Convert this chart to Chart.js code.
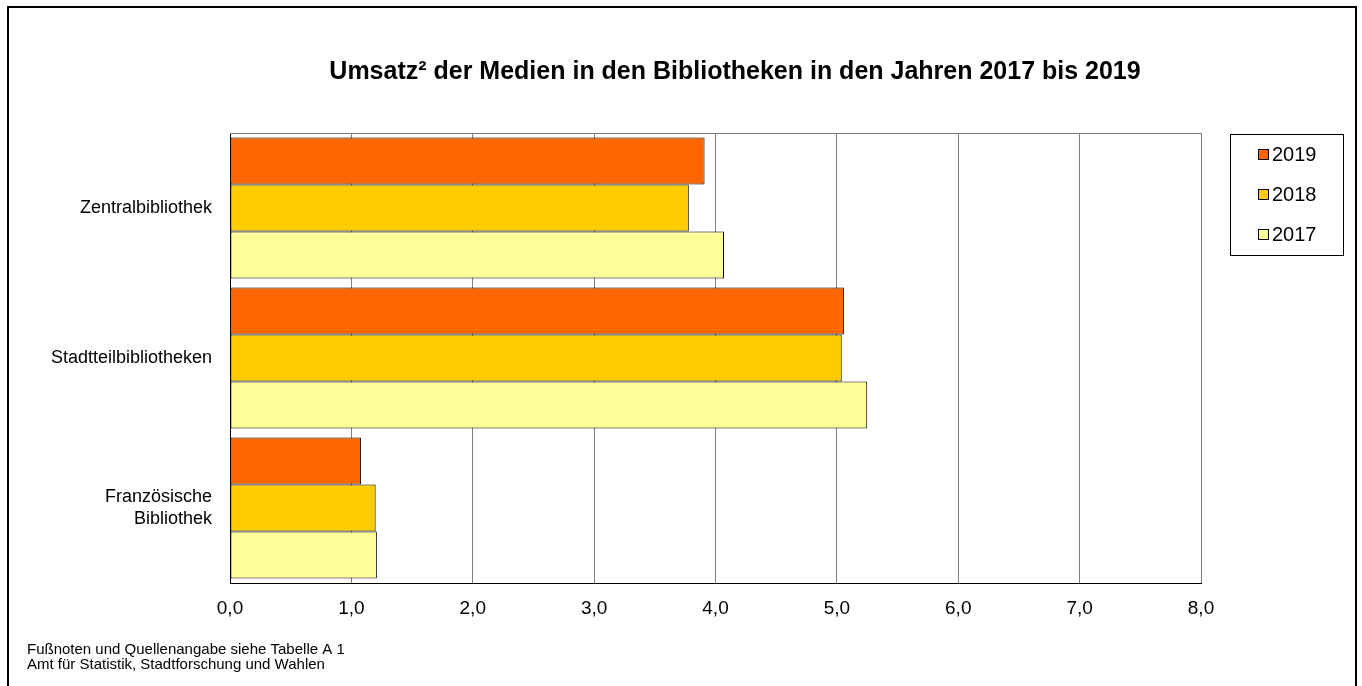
<!DOCTYPE html>
<html lang="de">
<head>
<meta charset="utf-8">
<title>Umsatz der Medien</title>
<script src="https://cdn.jsdelivr.net/npm/chart.js@4/dist/chart.umd.min.js"></script>
<style>
    html, body { margin: 0; padding: 0; background: #fff; }
    canvas { display: block; }
</style>
</head>
<body>
<canvas id="umsatzChart" width="1362" height="686"></canvas>
<script>
// Daten
const categories = ['Zentralbibliothek', 'Stadtteilbibliotheken', ['Französische', 'Bibliothek']];
const years = ['2019', '2018', '2017'];
const values2019 = [3.91, 5.06, 1.08];
const values2018 = [3.78, 5.04, 1.20];
const values2017 = [4.07, 5.25, 1.21];
const xTicks = [0, 1, 2, 3, 4, 5, 6, 7, 8];

const titleText = 'Umsatz² der Medien in den Bibliotheken in den Jahren 2017 bis 2019';
const footnotes = [
    'Fußnoten und Quellenangabe siehe Tabelle A 1',
    'Amt für Statistik, Stadtforschung und Wahlen'
];

const colors = ['#FF6600', '#FFCC00', '#FFFF99'];
const FONT = 'Arial, "Liberation Sans", sans-serif';

// Rahmen, Titel, Legende und Fußnoten
const decorPlugin = {
    id: 'decor',
    afterDraw(chart) {
        const ctx = chart.ctx;
        const area = chart.chartArea;
        ctx.save();

        // äußerer Rahmen
        ctx.strokeStyle = '#000';
        ctx.lineWidth = 2;
        ctx.beginPath();
        ctx.moveTo(8, 686);
        ctx.lineTo(8, 7);
        ctx.lineTo(1356, 7);
        ctx.lineTo(1356, 686);
        ctx.stroke();

        // obere Kante der Zeichenfläche
        ctx.strokeStyle = '#808080';
        ctx.lineWidth = 1;
        ctx.beginPath();
        ctx.moveTo(area.left, area.top + 0.5);
        ctx.lineTo(area.right, area.top + 0.5);
        ctx.stroke();

        // Titel
        ctx.fillStyle = '#000';
        ctx.font = 'bold 25px ' + FONT;
        ctx.textAlign = 'center';
        ctx.textBaseline = 'middle';
        ctx.fillText(titleText, 735, 72);

        // Legende
        ctx.strokeStyle = '#000';
        ctx.lineWidth = 1;
        ctx.strokeRect(1230.5, 134.5, 113, 121);
        ctx.font = '20px ' + FONT;
        ctx.textAlign = 'left';
        chart.data.datasets.forEach((ds, i) => {
            const y = 154.5 + i * 40;
            ctx.fillStyle = ds.backgroundColor;
            ctx.fillRect(1258.5, y - 5, 10, 10);
            ctx.strokeRect(1258.5, y - 5, 10, 10);
            ctx.fillStyle = '#000';
            ctx.fillText(ds.label, 1272, y + 1);
        });

        // Fußnoten
        ctx.font = '15px ' + FONT;
        ctx.textBaseline = 'alphabetic';
        footnotes.forEach((t, i) => ctx.fillText(t, 27, 654 + i * 15));

        ctx.restore();
    }
};

const ctx = document.getElementById('umsatzChart');

new Chart(ctx, {
    type: 'bar',
    data: {
        labels: categories,
        datasets: [
            { label: years[0], data: values2019, backgroundColor: colors[0] },
            { label: years[1], data: values2018, backgroundColor: colors[1] },
            { label: years[2], data: values2017, backgroundColor: colors[2] }
        ].map(ds => Object.assign(ds, {
            borderColor: '#000',
            borderWidth: 1,
            borderSkipped: false,
            barPercentage: 1.0,
            categoryPercentage: 0.94
        }))
    },
    options: {
        indexAxis: 'y',
        responsive: false,
        animation: false,
        maintainAspectRatio: false,
        layout: {
            padding: { top: 133, right: 161, left: 0, bottom: 0 }
        },
        scales: {
            x: {
                min: 0,
                max: 8,
                afterBuildTicks: scale => {
                    scale.ticks = xTicks.map(v => ({ value: v }));
                },
                afterFit: scale => { scale.height = 103; },
                grid: {
                    color: '#808080',
                    drawTicks: false
                },
                border: { color: '#000', width: 1 },
                ticks: {
                    color: '#000',
                    padding: 14,
                    font: { family: FONT, size: 19 },
                    callback: value => value.toFixed(1).replace('.', ',')
                }
            },
            y: {
                afterFit: scale => { scale.width = 230; },
                grid: { display: false, drawTicks: false },
                border: { color: '#000', width: 1 },
                ticks: {
                    color: '#000',
                    padding: 18,
                    font: { family: FONT, size: 18, lineHeight: 1.22 }
                }
            }
        },
        plugins: {
            legend: { display: false },
            title: { display: false },
            tooltip: { enabled: false }
        }
    },
    plugins: [decorPlugin]
});
</script>
</body>
</html>
